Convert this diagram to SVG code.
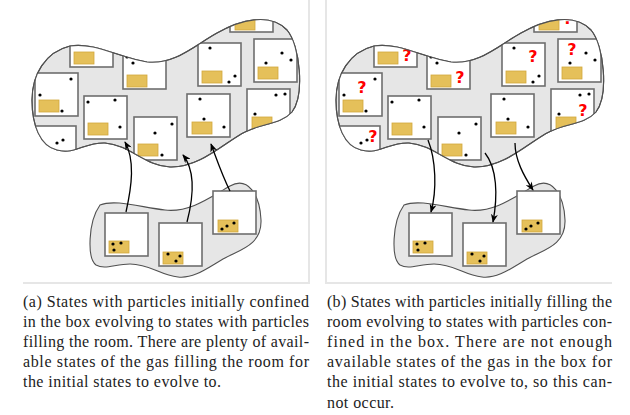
<svg xmlns="http://www.w3.org/2000/svg" width="630" height="415" viewBox="0 0 630 415">
<style>
.frame{fill:none;stroke:#e6e6e6;stroke-width:2}
.blob{fill:#e6e6e6;stroke:#505050;stroke-width:1.1}
.st{fill:#fff;stroke:#6e6e6e;stroke-width:1.6}
.y{fill:#e5c05a;stroke:#d2a83c;stroke-width:0.8}
.d{fill:#000}
.q{font-family:"DejaVu Sans","Liberation Sans",sans-serif;font-weight:bold;font-size:16px;fill:#ff0000;text-anchor:middle}
.arr{fill:none;stroke:#000;stroke-width:1.3;marker-end:url(#ah)}
.cap{font-size:16px;fill:#222}
</style>
<defs>
<path id="bigPath" d="M32,100 C32,75 45,52 70,46 C95,42 120,58 147,62 C175,65 195,45 217,33 C240,20 270,12 287,30 C300,45 305,95 292,112 C280,125 262,123 245,132 C225,142 200,168 170,167 C145,166 130,145 105,143 C85,142 75,155 57,150 C40,146 32,125 32,100 Z"/>
<path id="smallPath" d="M100,205 C115,199 140,207 165,210 C190,213 212,196 230,186 C248,176 260,195 261,220 C262,245 240,250 225,258 C210,266 195,279 178,277 C160,275 150,264 130,264 C115,264 105,270 96,265 C87,258 88,222 100,205 Z"/>
<clipPath id="bigClip"><use href="#bigPath"/></clipPath>
<marker id="ah" viewBox="0 0 10 8" refX="9" refY="4" markerWidth="9" markerHeight="7" markerUnits="userSpaceOnUse" orient="auto">
<path d="M0,0 L10,4 L0,8 L3,4 Z" fill="#000"/>
</marker>
<g id="roomStates">
<rect class="st" x="70" y="24" width="43" height="43"/>
<rect class="y" x="74" y="52" width="20" height="12"/>
<rect class="st" x="123" y="46" width="43" height="43"/>
<rect class="y" x="127" y="75" width="20" height="12"/>
<circle class="d" cx="127" cy="57" r="1.6"/><circle class="d" cx="133" cy="63" r="1.6"/>
<rect class="st" x="35" y="73" width="43" height="43"/>
<rect class="y" x="39" y="100" width="20" height="12"/>
<circle class="d" cx="71" cy="79" r="1.6"/><circle class="d" cx="40" cy="95" r="1.6"/><circle class="d" cx="62" cy="111" r="1.6"/>
<rect class="st" x="33" y="126" width="43" height="43"/>
<circle class="d" cx="57" cy="143" r="1.6"/><circle class="d" cx="63" cy="140" r="1.6"/>
<rect class="st" x="84" y="96" width="43" height="43"/>
<rect class="y" x="88" y="123" width="20" height="12"/>
<circle class="d" cx="88" cy="102" r="1.6"/><circle class="d" cx="115" cy="100" r="1.6"/><circle class="d" cx="120" cy="127" r="1.6"/>
<rect class="st" x="134" y="117" width="43" height="43"/>
<rect class="y" x="138" y="144" width="20" height="12"/>
<circle class="d" cx="172" cy="124" r="1.6"/><circle class="d" cx="155" cy="133" r="1.6"/><circle class="d" cx="162" cy="155" r="1.6"/>
<rect class="st" x="198" y="43" width="43" height="43"/>
<rect class="y" x="202" y="71" width="20" height="12"/>
<circle class="d" cx="210" cy="48" r="1.6"/><circle class="d" cx="235" cy="76" r="1.6"/><circle class="d" cx="229" cy="82" r="1.6"/>
<rect class="st" x="254" y="39" width="43" height="43"/>
<rect class="y" x="258" y="67" width="20" height="12"/>
<circle class="d" cx="282" cy="53" r="1.6"/><circle class="d" cx="291" cy="60" r="1.6"/><circle class="d" cx="266" cy="63" r="1.6"/>
<rect class="st" x="230" y="-11" width="43" height="43"/>
<rect class="y" x="235" y="18" width="20" height="12"/>
<rect class="st" x="187" y="94" width="43" height="43"/>
<rect class="y" x="192" y="122" width="20" height="12"/>
<circle class="d" cx="200" cy="99" r="1.6"/><circle class="d" cx="204" cy="119" r="1.6"/><circle class="d" cx="224" cy="127" r="1.6"/>
<rect class="st" x="247" y="89" width="43" height="43"/>
<rect class="y" x="252" y="117" width="20" height="12"/>
<circle class="d" cx="276" cy="95" r="1.6"/><circle class="d" cx="285" cy="94" r="1.6"/><circle class="d" cx="255" cy="114" r="1.6"/>
</g>
<g id="boxStates">
<use href="#smallPath" class="blob"/>
<rect class="st" x="105" y="213" width="43" height="43"/>
<rect class="y" x="109" y="241" width="20" height="12"/>
<circle class="d" cx="113" cy="244" r="1.6"/><circle class="d" cx="121" cy="243" r="1.6"/><circle class="d" cx="114" cy="250" r="1.6"/>
<rect class="st" x="159" y="223" width="43" height="43"/>
<rect class="y" x="163" y="252" width="20" height="12"/>
<circle class="d" cx="168" cy="254" r="1.6"/><circle class="d" cx="180" cy="256" r="1.6"/><circle class="d" cx="176" cy="261" r="1.6"/>
<rect class="st" x="213" y="191" width="43" height="43"/>
<rect class="y" x="218" y="220" width="20" height="12"/>
<circle class="d" cx="222" cy="229" r="1.6"/><circle class="d" cx="227" cy="226" r="1.6"/><circle class="d" cx="234" cy="223" r="1.6"/>
</g>
</defs>

<g id="frames">
<path class="frame" d="M309,0 V283 H23"/>
<path class="frame" d="M326,0 V283 H612"/>
</g>

<g id="room-a">
<use href="#bigPath" class="blob"/>
<g clip-path="url(#bigClip)"><use href="#roomStates"/></g>
<use href="#bigPath" fill="none" stroke="#505050" stroke-width="1.1"/>
</g>
<g id="box-a"><use href="#boxStates"/></g>

<g id="room-b" transform="translate(304,0)">
<use href="#bigPath" class="blob"/>
<g clip-path="url(#bigClip)">
<use href="#roomStates"/>
<text class="q" x="103" y="61">?</text>
<text class="q" x="156" y="83">?</text>
<text class="q" x="58" y="93">?</text>
<text class="q" x="69" y="142">?</text>
<text class="q" x="229" y="62">?</text>
<text class="q" x="268" y="55">?</text>
<text class="q" x="264" y="24">?</text>
<text class="q" x="279" y="116">?</text>
</g>
<use href="#bigPath" fill="none" stroke="#505050" stroke-width="1.1"/>
</g>
<g id="box-b" transform="translate(304,0)"><use href="#boxStates"/></g>

<g id="connectors">
<path class="arr" d="M126,212 C132,185 135,160 125,142"/>
<path class="arr" d="M187,222 C194,195 195,170 183,155"/>
<path class="arr" d="M230,191 C222,175 217,160 211,144"/>
<path class="arr" d="M428,140 C436,160 437,190 431,212"/>
<path class="arr" d="M485,153 C497,168 498,195 493,222"/>
<path class="arr" d="M515,143 C515,160 524,176 533,190"/>
</g>

<g id="captions" font-family="'Liberation Serif', 'DejaVu Serif', serif">
<text class="cap" x="23" y="307" textLength="286" lengthAdjust="spacing">(a) States with particles initially confined</text>
<text class="cap" x="23" y="327" textLength="286" lengthAdjust="spacing">in the box evolving to states with particles</text>
<text class="cap" x="23" y="347" textLength="286" lengthAdjust="spacing">filling the room. There are plenty of avail-</text>
<text class="cap" x="23" y="367" textLength="286" lengthAdjust="spacing">able states of the gas filling the room for</text>
<text class="cap" x="23" y="387" textLength="198" lengthAdjust="spacing">the initial states to evolve to.</text>
<text class="cap" x="327" y="307" textLength="285" lengthAdjust="spacing">(b) States with particles initially filling the</text>
<text class="cap" x="327" y="327" textLength="285" lengthAdjust="spacing">room evolving to states with particles con-</text>
<text class="cap" x="327" y="347" textLength="285" lengthAdjust="spacing">fined in the box. There are not enough</text>
<text class="cap" x="327" y="367" textLength="285" lengthAdjust="spacing">available states of the gas in the box for</text>
<text class="cap" x="327" y="387" textLength="285" lengthAdjust="spacing">the initial states to evolve to, so this can-</text>
<text class="cap" x="327" y="408" textLength="67" lengthAdjust="spacing">not occur.</text>
</g>
</svg>
